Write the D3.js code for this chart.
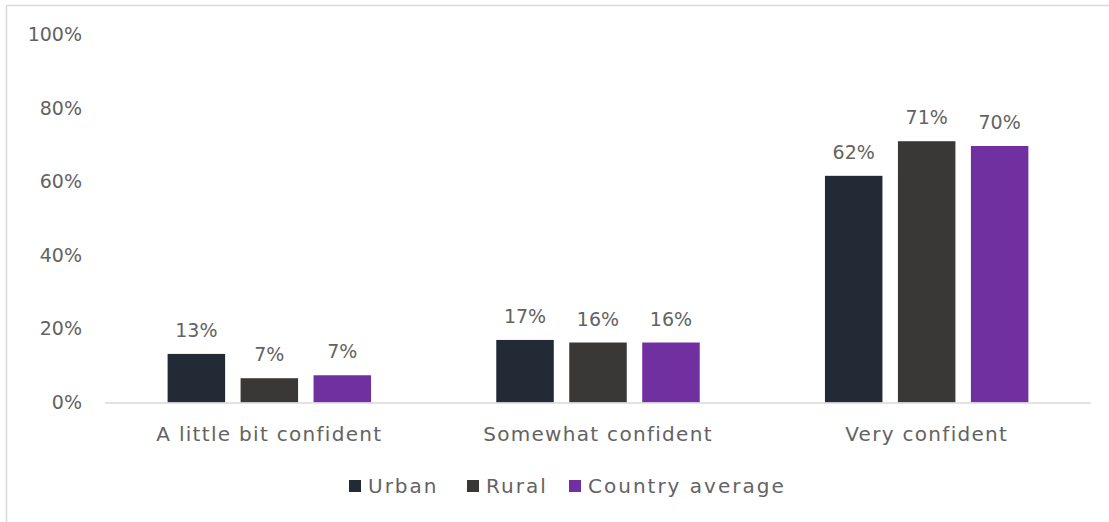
<!DOCTYPE html>
<html>
<head>
<meta charset="utf-8">
<script src="https://cdn.jsdelivr.net/npm/d3@7"></script>
<style>
  html, body { margin: 0; padding: 0; background: #fff; }
  svg { display: block; }
  text { font-family: "DejaVu Sans", sans-serif; fill: #636363; }
</style>
</head>
<body>
<svg id="chart" width="1109" height="522"></svg>
<script>
// Confidence levels by area type
const categories = ["A little bit confident", "Somewhat confident", "Very confident"];
const seriesNames = ["Urban", "Rural", "Country average"];
const urban = [0.132, 0.170, 0.616];
const rural = [0.066, 0.163, 0.710];
const countryAverage = [0.074, 0.163, 0.697];
const yTicks = [0, 0.2, 0.4, 0.6, 0.8, 1.0];
const colors = ["#222a35", "#3a3836", "#7030a0"];

const seriesValues = [urban, rural, countryAverage];

const svg = d3.select("#chart");
const W = 1109, H = 522;

// chart area frame
svg.append("rect")
  .attr("x", 6.5).attr("y", 5.5)
  .attr("width", W + 10).attr("height", H + 10)
  .attr("fill", "#fff").attr("stroke", "#d9d9d9").attr("stroke-width", 1.5);

const plot = { left: 105, right: 1091, top: 34.5, bottom: 402.5 };

const x0 = d3.scaleBand()
  .domain(categories)
  .range([plot.left, plot.right])
  .paddingInner(0.381)
  .paddingOuter(0.1905);

const x1 = d3.scaleBand()
  .domain(seriesNames)
  .range([0, x0.bandwidth()])
  .paddingInner(0.212);

const y = d3.scaleLinear().domain([0, 1]).range([plot.bottom, plot.top]);

// y axis labels (no axis line, no gridlines)
const yAxis = d3.axisLeft(y).tickValues(yTicks).tickFormat(d3.format(".0%")).tickSize(0).tickPadding(0);
const yG = svg.append("g").attr("transform", "translate(82,0)").call(yAxis);
yG.select(".domain").remove();
yG.selectAll("text").style("font-size", "19px").attr("fill", "#636363").style("font-family", null);

// bars
const groups = svg.append("g").selectAll("g")
  .data(categories)
  .join("g")
  .attr("transform", d => `translate(${x0(d)},0)`);

groups.selectAll("rect")
  .data((c, i) => seriesNames.map((s, j) => ({ s, v: seriesValues[j][i], color: colors[j] })))
  .join("rect")
  .attr("x", d => x1(d.s))
  .attr("y", d => y(d.v))
  .attr("width", x1.bandwidth())
  .attr("height", d => y(0) - y(d.v))
  .attr("fill", d => d.color);

// value labels
groups.selectAll("text.val")
  .data((c, i) => seriesNames.map((s, j) => ({ s, v: seriesValues[j][i] })))
  .join("text")
  .attr("class", "val")
  .attr("x", d => x1(d.s) + x1.bandwidth() / 2)
  .attr("y", d => y(d.v) - 17)
  .attr("text-anchor", "middle")
  .style("font-size", "19px")
  .text(d => d3.format(".0%")(d.v));

// baseline
svg.append("line")
  .attr("x1", plot.left).attr("x2", plot.right)
  .attr("y1", y(0) + 0.5).attr("y2", y(0) + 0.5)
  .attr("stroke", "#d9d9d9").attr("stroke-width", 1.5);

// category axis
const xAxis = d3.axisBottom(x0).tickSize(0).tickPadding(0);
const xG = svg.append("g").attr("transform", `translate(0,${y(0)})`).call(xAxis);
xG.select(".domain").remove();
xG.selectAll("text")
  .attr("dy", null).attr("y", 38)
  .style("font-size", "20px").style("letter-spacing", "1.3px")
  .attr("fill", "#636363").style("font-family", null);

// legend
const legendX = [349, 467, 569];
const legend = svg.append("g").selectAll("g")
  .data(seriesNames)
  .join("g")
  .attr("transform", (d, i) => `translate(${legendX[i]},486)`);
legend.append("rect")
  .attr("x", 0).attr("y", -6).attr("width", 12).attr("height", 12)
  .attr("fill", (d, i) => colors[i]);
legend.append("text")
  .attr("x", 19).attr("y", 7)
  .style("font-size", "20px").style("letter-spacing", "2px")
  .text(d => d);
</script>
</body>
</html>
